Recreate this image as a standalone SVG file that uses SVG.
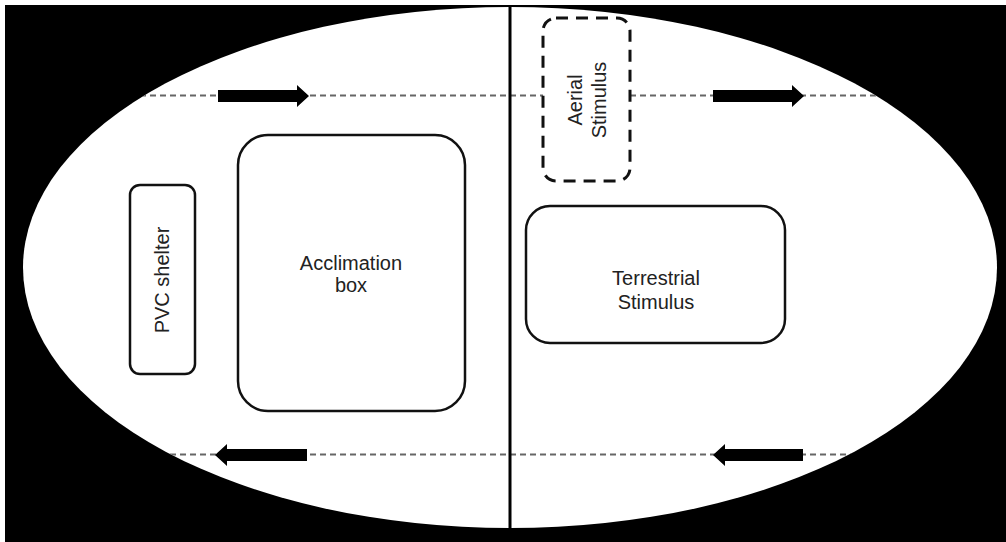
<svg xmlns="http://www.w3.org/2000/svg" width="1006" height="542" viewBox="0 0 1006 542">
<defs>
<style>
.box{fill:#fff;stroke:#111;stroke-width:2.5}
.dash{fill:#fff;stroke:#111;stroke-width:3;stroke-dasharray:12 8}
.lbl{font-family:"Liberation Sans",Arial,sans-serif;font-size:20px;fill:#222;text-anchor:middle}
.guide{stroke:#666;stroke-width:2;stroke-dasharray:6 4;fill:none}
.arrow{fill:#000}
</style>
<clipPath id="ell"><ellipse cx="510" cy="267.5" rx="487" ry="260.5"/></clipPath>
</defs>
<rect x="0" y="0" width="1006" height="542" fill="#fff"/>
<rect x="5" y="5" width="1001" height="537" fill="#000"/>
<ellipse cx="510" cy="267.5" rx="487" ry="260.5" fill="#fff"/>
<g id="connectors" clip-path="url(#ell)">
<line class="guide" x1="20" y1="95.5" x2="1000" y2="95.5"/>
<line class="guide" x1="20" y1="454.5" x2="1000" y2="454.5"/>
<line x1="510" y1="0" x2="510" y2="542" stroke="#000" stroke-width="3"/>
<polygon class="arrow" points="218,90 297,90 297,85 309,96 297,107 297,102 218,102"/>
<polygon class="arrow" points="713,90 792,90 792,85 804,96 792,107 792,102 713,102"/>
<polygon class="arrow" points="307,449 227,449 227,444 215,455 227,466 227,461 307,461"/>
<polygon class="arrow" points="803,449 725,449 725,444 713,455 725,466 725,461 803,461"/>
</g>
<g id="aerial">
<rect class="dash" x="543" y="18" width="87" height="163" rx="13"/>
<text class="lbl" transform="translate(587,100) rotate(-90)"><tspan x="0" y="-5">Aerial</tspan><tspan x="0" y="19">Stimulus</tspan></text>
</g>
<g id="pvc">
<rect class="box" x="130" y="185" width="65" height="189" rx="10"/>
<text class="lbl" transform="translate(162,280) rotate(-90)" x="0" y="7">PVC shelter</text>
</g>
<g id="acclimation">
<rect class="box" x="238" y="135" width="227" height="276" rx="30"/>
<text class="lbl"><tspan x="351" y="270">Acclimation</tspan><tspan x="351" y="292">box</tspan></text>
</g>
<g id="terrestrial">
<rect class="box" x="526" y="206" width="259" height="137" rx="24"/>
<text class="lbl"><tspan x="656" y="285">Terrestrial</tspan><tspan x="656" y="309">Stimulus</tspan></text>
</g>
</svg>
